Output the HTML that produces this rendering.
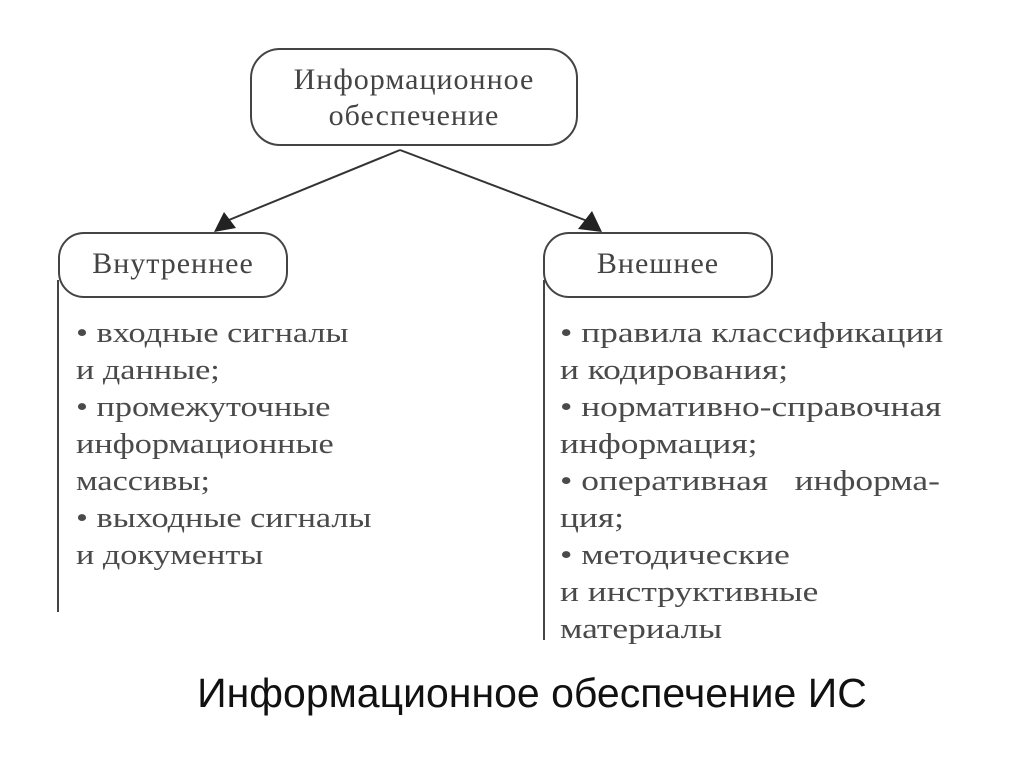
<!DOCTYPE html>
<html><head><meta charset="utf-8"><style>
body{margin:0;width:1024px;height:767px;background:#fff;position:relative;overflow:hidden}
.box{position:absolute;border:2px solid #444;background:#fff;font-family:"Liberation Serif",serif;color:#444;text-align:center;letter-spacing:1px}
.t{position:absolute;font-family:"Liberation Serif",serif;font-size:29px;color:#4a4a4a;line-height:37px;white-space:nowrap;transform-origin:0 0}
.cap{position:absolute;left:0;width:1064px;top:670px;text-align:center;font-family:"Liberation Sans","DejaVu Sans",sans-serif;font-size:41px;color:#111}
</style></head><body>
<svg width="1024" height="767" style="position:absolute;left:0;top:0">
<line x1="400" y1="150" x2="224" y2="222" stroke="#333" stroke-width="2"/>
<line x1="400" y1="150" x2="590" y2="222" stroke="#333" stroke-width="2"/>
<polygon points="214,232 236,228 224,212" fill="#222"/>
<polygon points="602,232 578,229 592,211" fill="#222"/>
<line x1="58" y1="280" x2="58" y2="612" stroke="#444" stroke-width="2"/>
<line x1="544" y1="280" x2="544" y2="640" stroke="#444" stroke-width="2"/>
</svg>
<div class="box" style="left:250px;top:48px;width:328px;height:98px;border-radius:30px;font-size:30px;line-height:36px;padding-top:12px;box-sizing:border-box">Информационное<br>обеспечение</div>
<div class="box" style="left:58px;top:232px;width:226px;height:62px;border-radius:26px;font-size:30px;line-height:60px">Внутреннее</div>
<div class="box" style="left:543px;top:232px;width:226px;height:62px;border-radius:26px;font-size:30px;line-height:60px">Внешнее</div>
<div class="t" style="left:76px;top:315px;transform:scaleX(1.18)">• входные сигналы<br>и данные;<br>• промежуточные<br>информационные<br>массивы;<br>• выходные сигналы<br>и документы</div>
<div class="t" style="left:560px;top:315px;transform:scaleX(1.22)">• правила классификации<br>и кодирования;<br>• нормативно-справочная<br>информация;<br>• оперативная&nbsp;&nbsp;&nbsp;информа-<br>ция;<br>• методические<br>и инструктивные<br>материалы</div>
<div class="cap">Информационное обеспечение ИС</div>
</body></html>
